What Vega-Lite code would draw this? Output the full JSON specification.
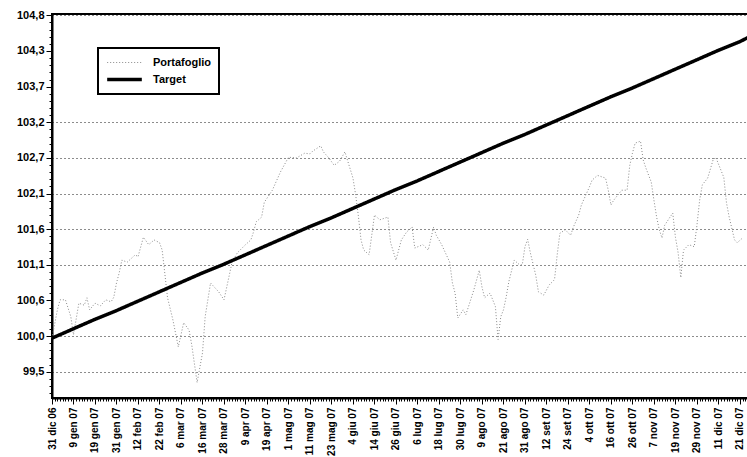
{
  "$schema": "https://vega.github.io/schema/vega-lite/v6.json",
  "width": 696,
  "height": 384,
  "autosize": "none",
  "padding": {"left": 52, "top": 14, "right": 0, "bottom": 59},
  "background": "white",
  "config": {
    "view": {"stroke": "black", "strokeWidth": 2},
    "axis": {"labelFont": "Liberation Sans", "labelFontWeight": "bold", "labelFontSize": 11, "labelColor": "black", "tickColor": "black", "domainColor": "black", "domainWidth": 2, "title": null}
  },
  "data": {"values": [
    {"s":"Portafoglio","i":0,"v":100.0},{"s":"Portafoglio","i":2,"v":100.42},{"s":"Portafoglio","i":3,"v":100.57},{"s":"Portafoglio","i":5,"v":100.57},{"s":"Portafoglio","i":7,"v":100.32},{"s":"Portafoglio","i":8,"v":100.05},{"s":"Portafoglio","i":10,"v":100.52},{"s":"Portafoglio","i":12,"v":100.49},{"s":"Portafoglio","i":13,"v":100.6},{"s":"Portafoglio","i":14,"v":100.42},{"s":"Portafoglio","i":16,"v":100.52},{"s":"Portafoglio","i":18,"v":100.48},{"s":"Portafoglio","i":20,"v":100.57},{"s":"Portafoglio","i":22,"v":100.54},{"s":"Portafoglio","i":23,"v":100.61},{"s":"Portafoglio","i":24,"v":100.82},{"s":"Portafoglio","i":25,"v":100.97},{"s":"Portafoglio","i":26,"v":101.16},{"s":"Portafoglio","i":28,"v":101.13},{"s":"Portafoglio","i":31,"v":101.24},{"s":"Portafoglio","i":32,"v":101.21},{"s":"Portafoglio","i":34,"v":101.5},{"s":"Portafoglio","i":36,"v":101.39},{"s":"Portafoglio","i":38,"v":101.46},{"s":"Portafoglio","i":40,"v":101.42},{"s":"Portafoglio","i":41,"v":101.31},{"s":"Portafoglio","i":43,"v":100.6},{"s":"Portafoglio","i":45,"v":100.27},{"s":"Portafoglio","i":47,"v":99.87},{"s":"Portafoglio","i":49,"v":100.23},{"s":"Portafoglio","i":51,"v":100.12},{"s":"Portafoglio","i":52,"v":99.9},{"s":"Portafoglio","i":54,"v":99.34},{"s":"Portafoglio","i":56,"v":99.78},{"s":"Portafoglio","i":57,"v":100.32},{"s":"Portafoglio","i":59,"v":100.82},{"s":"Portafoglio","i":62,"v":100.69},{"s":"Portafoglio","i":64,"v":100.57},{"s":"Portafoglio","i":66,"v":100.94},{"s":"Portafoglio","i":67,"v":101.13},{"s":"Portafoglio","i":69,"v":101.27},{"s":"Portafoglio","i":72,"v":101.39},{"s":"Portafoglio","i":74,"v":101.46},{"s":"Portafoglio","i":75,"v":101.58},{"s":"Portafoglio","i":76,"v":101.73},{"s":"Portafoglio","i":78,"v":101.8},{"s":"Portafoglio","i":79,"v":102.02},{"s":"Portafoglio","i":82,"v":102.2},{"s":"Portafoglio","i":85,"v":102.47},{"s":"Portafoglio","i":88,"v":102.69},{"s":"Portafoglio","i":91,"v":102.68},{"s":"Portafoglio","i":94,"v":102.75},{"s":"Portafoglio","i":96,"v":102.74},{"s":"Portafoglio","i":97,"v":102.78},{"s":"Portafoglio","i":100,"v":102.86},{"s":"Portafoglio","i":101,"v":102.77},{"s":"Portafoglio","i":103,"v":102.68},{"s":"Portafoglio","i":105,"v":102.57},{"s":"Portafoglio","i":107,"v":102.63},{"s":"Portafoglio","i":109,"v":102.77},{"s":"Portafoglio","i":111,"v":102.51},{"s":"Portafoglio","i":112,"v":102.38},{"s":"Portafoglio","i":113,"v":102.13},{"s":"Portafoglio","i":114,"v":101.82},{"s":"Portafoglio","i":115,"v":101.46},{"s":"Portafoglio","i":116,"v":101.31},{"s":"Portafoglio","i":118,"v":101.24},{"s":"Portafoglio","i":120,"v":101.83},{"s":"Portafoglio","i":122,"v":101.76},{"s":"Portafoglio","i":125,"v":101.8},{"s":"Portafoglio","i":126,"v":101.42},{"s":"Portafoglio","i":128,"v":101.16},{"s":"Portafoglio","i":130,"v":101.46},{"s":"Portafoglio","i":132,"v":101.58},{"s":"Portafoglio","i":134,"v":101.65},{"s":"Portafoglio","i":135,"v":101.34},{"s":"Portafoglio","i":138,"v":101.39},{"s":"Portafoglio","i":140,"v":101.31},{"s":"Portafoglio","i":142,"v":101.65},{"s":"Portafoglio","i":143,"v":101.53},{"s":"Portafoglio","i":145,"v":101.39},{"s":"Portafoglio","i":148,"v":101.13},{"s":"Portafoglio","i":149,"v":100.82},{"s":"Portafoglio","i":150,"v":100.67},{"s":"Portafoglio","i":151,"v":100.3},{"s":"Portafoglio","i":153,"v":100.42},{"s":"Portafoglio","i":154,"v":100.35},{"s":"Portafoglio","i":155,"v":100.47},{"s":"Portafoglio","i":157,"v":100.72},{"s":"Portafoglio","i":159,"v":101.01},{"s":"Portafoglio","i":160,"v":100.76},{"s":"Portafoglio","i":161,"v":100.6},{"s":"Portafoglio","i":163,"v":100.67},{"s":"Portafoglio","i":165,"v":100.47},{"s":"Portafoglio","i":166,"v":99.98},{"s":"Portafoglio","i":167,"v":100.32},{"s":"Portafoglio","i":168,"v":100.42},{"s":"Portafoglio","i":169,"v":100.61},{"s":"Portafoglio","i":170,"v":100.84},{"s":"Portafoglio","i":172,"v":101.16},{"s":"Portafoglio","i":174,"v":101.09},{"s":"Portafoglio","i":175,"v":101.09},{"s":"Portafoglio","i":176,"v":101.36},{"s":"Portafoglio","i":177,"v":101.47},{"s":"Portafoglio","i":178,"v":101.27},{"s":"Portafoglio","i":180,"v":100.94},{"s":"Portafoglio","i":181,"v":100.69},{"s":"Portafoglio","i":183,"v":100.64},{"s":"Portafoglio","i":185,"v":100.79},{"s":"Portafoglio","i":187,"v":100.87},{"s":"Portafoglio","i":188,"v":101.24},{"s":"Portafoglio","i":189,"v":101.56},{"s":"Portafoglio","i":191,"v":101.61},{"s":"Portafoglio","i":193,"v":101.53},{"s":"Portafoglio","i":194,"v":101.65},{"s":"Portafoglio","i":196,"v":101.83},{"s":"Portafoglio","i":197,"v":101.98},{"s":"Portafoglio","i":200,"v":102.25},{"s":"Portafoglio","i":201,"v":102.35},{"s":"Portafoglio","i":203,"v":102.42},{"s":"Portafoglio","i":206,"v":102.38},{"s":"Portafoglio","i":207,"v":102.2},{"s":"Portafoglio","i":208,"v":101.98},{"s":"Portafoglio","i":209,"v":102.05},{"s":"Portafoglio","i":212,"v":102.2},{"s":"Portafoglio","i":214,"v":102.2},{"s":"Portafoglio","i":215,"v":102.57},{"s":"Portafoglio","i":216,"v":102.75},{"s":"Portafoglio","i":217,"v":102.9},{"s":"Portafoglio","i":219,"v":102.93},{"s":"Portafoglio","i":220,"v":102.65},{"s":"Portafoglio","i":221,"v":102.53},{"s":"Portafoglio","i":223,"v":102.32},{"s":"Portafoglio","i":224,"v":102.05},{"s":"Portafoglio","i":225,"v":101.8},{"s":"Portafoglio","i":226,"v":101.61},{"s":"Portafoglio","i":227,"v":101.49},{"s":"Portafoglio","i":228,"v":101.68},{"s":"Portafoglio","i":231,"v":101.86},{"s":"Portafoglio","i":232,"v":101.5},{"s":"Portafoglio","i":233,"v":101.27},{"s":"Portafoglio","i":234,"v":100.9},{"s":"Portafoglio","i":235,"v":101.31},{"s":"Portafoglio","i":237,"v":101.39},{"s":"Portafoglio","i":239,"v":101.36},{"s":"Portafoglio","i":240,"v":101.68},{"s":"Portafoglio","i":241,"v":102.05},{"s":"Portafoglio","i":242,"v":102.28},{"s":"Portafoglio","i":244,"v":102.38},{"s":"Portafoglio","i":246,"v":102.65},{"s":"Portafoglio","i":247,"v":102.69},{"s":"Portafoglio","i":250,"v":102.39},{"s":"Portafoglio","i":251,"v":102.01},{"s":"Portafoglio","i":252,"v":101.8},{"s":"Portafoglio","i":254,"v":101.46},{"s":"Portafoglio","i":255,"v":101.42},{"s":"Portafoglio","i":257,"v":101.49},
    {"s":"Target","i":0,"v":100.0},{"s":"Target","i":8,"v":100.14},{"s":"Target","i":16,"v":100.28},{"s":"Target","i":24,"v":100.41},{"s":"Target","i":32,"v":100.55},{"s":"Target","i":40,"v":100.69},{"s":"Target","i":48,"v":100.83},{"s":"Target","i":56,"v":100.97},{"s":"Target","i":64,"v":101.1},{"s":"Target","i":72,"v":101.24},{"s":"Target","i":80,"v":101.38},{"s":"Target","i":88,"v":101.52},{"s":"Target","i":96,"v":101.66},{"s":"Target","i":104,"v":101.79},{"s":"Target","i":112,"v":101.93},{"s":"Target","i":120,"v":102.07},{"s":"Target","i":128,"v":102.21},{"s":"Target","i":136,"v":102.34},{"s":"Target","i":144,"v":102.48},{"s":"Target","i":152,"v":102.62},{"s":"Target","i":160,"v":102.76},{"s":"Target","i":168,"v":102.9},{"s":"Target","i":176,"v":103.03},{"s":"Target","i":184,"v":103.17},{"s":"Target","i":192,"v":103.31},{"s":"Target","i":200,"v":103.45},{"s":"Target","i":208,"v":103.59},{"s":"Target","i":216,"v":103.72},{"s":"Target","i":224,"v":103.86},{"s":"Target","i":232,"v":104.0},{"s":"Target","i":240,"v":104.14},{"s":"Target","i":248,"v":104.28},{"s":"Target","i":256,"v":104.41},{"s":"Target","i":259,"v":104.47}
  ]},
  "mark": {"type": "line", "interpolate": "linear"},
  "encoding": {
    "x": {
      "field": "i", "type": "quantitative",
      "scale": {"domain": [0, 259], "nice": false, "zero": false},
      "axis": {
        "tickCount": 260,
        "labelExpr": "datum.value % 8 === 0 ? ['31 dic 06','9 gen 07','19 gen 07','31 gen 07','12 feb 07','22 feb 07','6 mar 07','16 mar 07','28 mar 07','9 apr 07','19 apr 07','1 mag 07','11 mag 07','23 mag 07','4 giu 07','14 giu 07','26 giu 07','6 lug 07','18 lug 07','30 lug 07','9 ago 07','21 ago 07','31 ago 07','12 set 07','24 set 07','4 ott 07','16 ott 07','26 ott 07','7 nov 07','19 nov 07','29 nov 07','11 dic 07','21 dic 07'][datum.value / 8] : ''",
        "labelAngle": 270, "labelAlign": "right", "labelBaseline": "middle",
        "labelFontSize": 10,
        "labelOverlap": false, "labelFlush": false, "labelBound": false, "labelPadding": 3,
        "tickSize": {"condition": {"test": "datum.value % 8 === 0", "value": 6}, "value": 3},
        "tickWidth": 1, "grid": false
      }
    },
    "y": {
      "field": "v", "type": "quantitative",
      "scale": {"domain": [99.11, 104.82], "nice": false, "zero": false},
      "axis": {
        "values": [99.182,99.288,99.394,99.5,99.606,99.712,99.818,99.924,100.03,100.136,100.242,100.348,100.454,100.56,100.666,100.772,100.878,100.984,101.09,101.196,101.302,101.408,101.514,101.62,101.726,101.832,101.938,102.044,102.15,102.256,102.362,102.468,102.574,102.68,102.786,102.892,102.998,103.104,103.21,103.316,103.422,103.528,103.634,103.74,103.846,103.952,104.058,104.164,104.27,104.376,104.482,104.588,104.694,104.8],
        "labelExpr": "(round((datum.value-99.5)/0.106) % 5 === 0 && round((datum.value-99.5)/0.106) >= 0) ? ['99,5','100,0','100,6','101,1','101,6','102,1','102,7','103,2','103,7','104,3','104,8'][round((datum.value-99.5)/0.106)/5] : ''",
        "labelOverlap": false, "labelFlush": false, "labelBound": false, "labelPadding": 2,
        "tickSize": {"condition": {"test": "round((datum.value-99.5)/0.106) % 5 === 0", "value": 6}, "value": 3},
        "tickWidth": 1,
        "grid": true, "gridColor": "black", "gridDash": [1, 3], "gridWidth": 1.2,
        "gridOpacity": {"condition": {"test": "indexof([0,5,15,20,25,30,35,50], round((datum.value-99.5)/0.106)) >= 0", "value": 0.9}, "value": 0}
      }
    },
    "color": {
      "field": "s", "type": "nominal",
      "scale": {"domain": ["Portafoglio", "Target"], "range": ["#8a8a8a", "#000000"]},
      "legend": {
        "title": null, "orient": "none", "legendX": 46, "legendY": 34,
        "strokeColor": "black", "fillColor": "white", "padding": 7,
        "labelFont": "Liberation Sans", "labelFontWeight": "bold", "labelFontSize": 11, "labelColor": "black",
        "symbolType": "stroke", "symbolSize": 1200, "clipHeight": 15, "rowPadding": 2, "labelOffset": 9,
        "encode": {"legend": {"update": {"strokeWidth": {"value": 2}}}}
      }
    },
    "strokeWidth": {
      "field": "s", "type": "nominal",
      "scale": {"domain": ["Portafoglio", "Target"], "range": [1, 3.5]},
      "legend": null
    },
    "strokeDash": {
      "field": "s", "type": "nominal",
      "scale": {"domain": ["Portafoglio", "Target"], "range": [[1, 2], [1, 0]]},
      "legend": null
    }
  }
}
